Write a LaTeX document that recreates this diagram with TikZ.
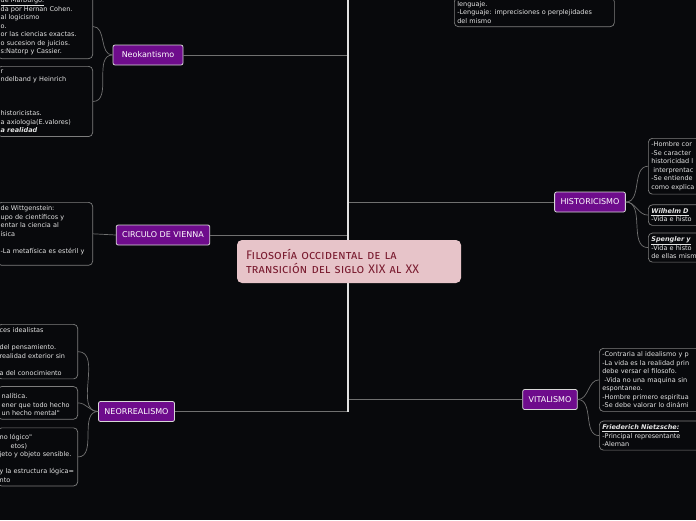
\documentclass[tikz,border=0pt]{standalone}
\usepackage{fontspec}
\usepackage{xcolor}
\usepackage{tikz}
\usetikzlibrary{positioning}
\newfontfamily\mapfont{DejaVu Sans}
\newfontfamily\rootfont[Letters=SmallCaps]{Fira Sans}
\definecolor{canvas}{RGB}{8, 9, 12}
\definecolor{twig}{RGB}{112, 112, 112}
\definecolor{trunk}{RGB}{225, 225, 225}
\definecolor{topicfill}{RGB}{110, 12, 140}
\definecolor{topicline}{RGB}{215, 215, 215}
\definecolor{leafline}{RGB}{125, 125, 125}
\definecolor{leaftext}{RGB}{228, 228, 228}
\definecolor{rootfill}{RGB}{231, 196, 201}
\definecolor{roottext}{RGB}{122, 28, 48}

\begin{document}
\begin{tikzpicture}[x=1pt, y=-1pt,
				topic/.style={rectangle, draw=topicline, fill=topicfill, rounded corners=2pt, line width=0.8pt,
					text=white, font=\mapfont\fontsize{8}{9}\selectfont, inner xsep=6pt, minimum height=20pt},
				leaf/.style={rectangle, draw=leafline, rounded corners=4pt, line width=0.7pt, text=leaftext,
					font=\mapfont\fontsize{6.5}{8.5}\selectfont, align=left, inner xsep=3pt, inner ysep=3.5pt},
				root/.style={rectangle, fill=rootfill, rounded corners=5pt, text=roottext, align=left,
					font=\rootfont\fontsize{12.4}{14}\selectfont, text width=206pt, inner xsep=9pt, minimum height=43pt},
				link/.style={draw=twig, line width=1pt},
				twigline/.style={draw=twig, line width=0.7pt}]
				
				\useasboundingbox (0,0) rectangle (696,520);
				\clip (0,0) rectangle (696,520);
				\fill[canvas] (0,0) rectangle (696,520);
				
				% ramas
				\node[topic, minimum width=70pt] (neok) at (148,55) {Neokantismo};
				\node[topic] (circ) at (163,235) {CIRCULO DE VIENNA};
				\node[topic] (neor) at (136.5,411.5) {NEORREALISMO};
				\node[topic] (hist) at (590,202) {HISTORICISMO};
				\node[topic] (vita) at (550,399.5) {VITALISMO};
				
				% hojas izquierda
				\node[leaf, text width=89pt, anchor=south east] (kant1) at (93,59)
				{\underline{de Marburgo.}\\da por Hernan Cohen.\\al logicismo\\o.\\or las ciencias exactas.\\o sucesion de juicios.\\s:Natorp y Cassier.};
				\node[leaf, text width=89pt, anchor=north east] (kant2) at (93,66)
				{r\\ndelband y Heinrich\\~\\~\\~\\historicistas.\\a axiologia(E.valores)\\\textbf{\textit{a realidad}}};
				\node[leaf, text width=89pt, anchor=north east] (viena1) at (93,202)
				{de Wittgenstein:\\upo de científicos y\\entar la ciencia al\\ísica\\~\\-La metafísica es estéril y\\~};
				\node[leaf, text width=76pt, inner xsep=2pt, anchor=north east] (real1) at (78,324)
				{ces idealistas\\~\\del pensamiento.\\realidad exterior sin\\~\\a del conocimiento};
				\node[leaf, text width=76pt, inner xsep=2pt, below=7pt of real1.south east, anchor=north east] (real2)
				{~\\\hspace*{2pt}nalítica.\\\hspace*{2pt}ener que todo hecho\\\hspace*{2pt}un hecho mental"};
				\node[leaf, text width=76pt, inner xsep=2pt, below=8pt of real2.south east, anchor=north east] (real3)
				{~\\no lógico"\\\hspace*{11pt}etos)\\jeto y objeto sensible.\\~\\y la estructura lógica=\\nto};
				
				% hojas derecha
				\node[leaf, text width=154pt, anchor=south west] (lengua) at (454,27)
				{lenguaje.\\-Lenguaje: imprecisiones o perplejidades\\del mismo};
				\node[leaf, text width=90pt, anchor=north west] (hist1) at (648,138)
				{-Hombre cor\\-Se caracter\\historicidad l\\\hspace*{2pt}interprentac\\-Se entiende\\como explica};
				\node[leaf, text width=90pt, below=10pt of hist1.south west, anchor=north west] (hist2)
				{\textbf{\textit{\underline{Wilhelm D}}}\\-Vida e histo};
				\node[leaf, text width=90pt, below=7pt of hist2.south west, anchor=north west] (hist3)
				{\textbf{\textit{\underline{Spengler y}}}\\-Vida e histo\\de ellas mism};
				\node[leaf, text width=110pt, anchor=north west] (vita1) at (599,348)
				{-Contraria al idealismo y p\\-La vida es la realidad prin\\debe versar el filosofo.\\\hspace*{2pt}-Vida no una maquina sin\\espontaneo.\\-Hombre primero espiritua\\-Se debe valorar lo dinámi};
				\node[leaf, text width=110pt, below=9pt of vita1.south west, anchor=north west] (vita2)
				{\textbf{\textit{\underline{Friederich Nietzsche:}}}\\-Principal representante\\-Aleman};
				
				% tronco
				\coordinate (trunktop) at (348,0);
				\coordinate (trunkend) at (348,411.5);
				\draw[link] (neok) -- (neok -| trunktop);
				\draw[link] (circ) -- (circ -| trunktop);
				\draw[link] (neor) -- (neor -| trunktop);
				\draw[link] (hist) -- (hist -| trunktop);
				\draw[link] (vita) -- (vita -| trunktop);
				\draw[draw=trunk, line width=1.8pt] (trunktop) -- (trunkend);
				
				\node[root] (root) at (349,261.5) {Filosofía occidental de la\\transición del siglo XIX al XX};
				
				% conectores
				\draw[twigline] (neok.west) to[out=180, in=0] (kant1.east);
				\draw[twigline] (neok.west) to[out=180, in=0] (kant2.east);
				\draw[twigline] (circ.west) -- (viena1.east);
				\draw[twigline] (neor.west) to[out=180, in=0] (real1.east);
				\draw[twigline] (neor.west) to[out=180, in=0] (real2.east);
				\draw[twigline] (neor.west) to[out=180, in=0] (real3.east);
				\draw[twigline] (hist.east) to[out=0, in=180] (hist1.west);
				\draw[twigline] (hist.east) to[out=0, in=180] (hist2.west);
				\draw[twigline] (hist.east) to[out=0, in=180] (hist3.west);
				\draw[twigline] (vita.east) to[out=0, in=180] (vita1.west);
				\draw[twigline] (vita.east) to[out=0, in=180] (vita2.west);
			\end{tikzpicture}
\end{document}
